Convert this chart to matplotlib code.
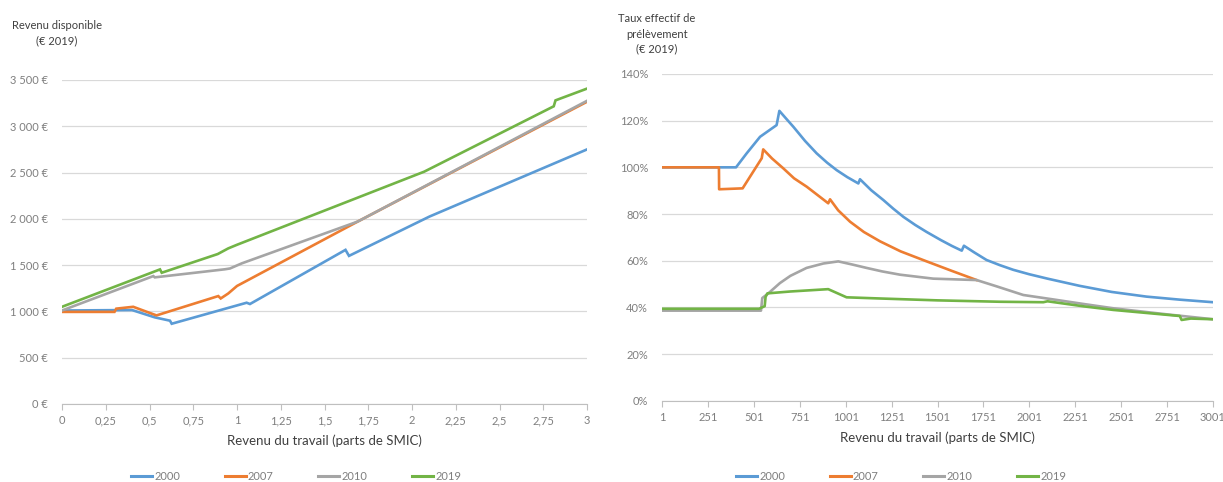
import matplotlib
matplotlib.use("Agg")
import matplotlib.pyplot as plt
from matplotlib.ticker import FuncFormatter
from matplotlib.lines import Line2D

plt.rcParams['font.family'] = ['Lato', 'DejaVu Sans']

years = ["2000", "2007", "2010", "2019"]
colors = ["#5B9BD5", "#ED7D31", "#A5A5A5", "#72B446"]

# Revenu disponible (€ 2019) vs revenu du travail (parts de SMIC)
rd_x_2000 = [0, 0.40, 0.53, 0.617, 0.627, 1.055, 1.074, 1.62, 1.64, 2.10, 3.0]
rd_y_2000 = [1010, 1015, 936, 900, 867, 1094, 1080, 1665, 1600, 2025, 2750]
rd_x_2007 = [0, 0.30, 0.31, 0.407, 0.54, 0.893, 0.907, 0.95, 1.0, 1.69, 3.0]
rd_y_2007 = [995, 995, 1030, 1050, 957, 1166, 1140, 1194, 1275, 1971, 3265]
rd_x_2010 = [0, 0.522, 0.53, 0.93, 0.96, 1.027, 1.69, 3.0]
rd_y_2010 = [1010, 1382, 1368, 1455, 1464, 1519, 1971, 3275]
rd_x_2019 = [0, 0.56, 0.57, 0.89, 0.95, 1.0, 2.07, 2.81, 2.82, 3.0]
rd_y_2019 = [1050, 1454, 1418, 1620, 1681, 1720, 2510, 3216, 3280, 3407]

# Taux effectif de prélèvement (%) vs revenu du travail
te_x_2000 = [1, 404, 462, 535, 625, 640, 680, 716, 780, 843, 900, 952, 1010, 1070,
             1079, 1140, 1206, 1260, 1315, 1380, 1442, 1520, 1580, 1633, 1645, 1700,
             1768, 1840, 1913, 2000, 2100, 2276, 2450, 2639, 2820, 3001]
te_y_2000 = [100, 100, 106, 113.1, 118.1, 124.2, 120.6, 117.4, 111.3, 106, 102, 98.8,
             95.8, 93.1, 94.9, 90.2, 86, 82.3, 78.8, 75.3, 72.3, 68.8, 66.3, 64.3, 66.4,
             63.6, 60.3, 58.1, 56.1, 54.2, 52.3, 49.2, 46.6, 44.6, 43.3, 42.2]
te_x_2007 = [1, 311, 312, 440, 544, 552, 600, 661, 720, 789, 850, 906, 916, 960, 1025,
             1100, 1188, 1300, 1442, 1580, 1714]
te_y_2007 = [100, 100, 90.6, 91, 103.9, 107.7, 103.8, 99.6, 95.3, 91.7, 88, 84.6, 86.3,
             81.6, 76.7, 72.3, 68.3, 64, 59.7, 55.6, 51.7]
te_x_2010 = [1, 540, 547, 580, 643, 700, 788, 880, 961, 1040, 1115, 1200, 1297, 1478,
             1714, 1823, 1968, 2131, 2300, 2458, 2750, 3001]
te_y_2010 = [38.6, 38.6, 44, 46, 50.4, 53.5, 56.9, 58.8, 59.7, 58.3, 56.9, 55.4, 54,
             52.3, 51.7, 49, 45.3, 43.4, 41.4, 39.6, 37, 34.9]
te_x_2019 = [1, 530, 560, 565, 575, 700, 906, 1006, 1188, 1500, 1841, 2077, 2100,
             2300, 2458, 2820, 2830, 2880, 3001]
te_y_2019 = [39.4, 39.4, 40.5, 44.5, 46, 46.8, 47.8, 44.3, 43.8, 43, 42.4, 42.2, 42.6,
             40.4, 38.9, 36.3, 34.6, 35.2, 34.9]

left_xticks = [0, 0.25, 0.5, 0.75, 1, 1.25, 1.5, 1.75, 2, 2.25, 2.5, 2.75, 3]
left_xlabels = ["0", "0,25", "0,5", "0,75", "1", "1,25", "1,5", "1,75", "2",
                "2,25", "2,5", "2,75", "3"]
left_yticks = [0, 500, 1000, 1500, 2000, 2500, 3000, 3500]
right_xticks = [1, 251, 501, 751, 1001, 1251, 1501, 1751, 2001, 2251, 2501, 2751, 3001]
right_yticks = [0, 20, 40, 60, 80, 100, 120, 140]

W, H = 1223, 482
fig = plt.figure(figsize=(W / 100, H / 100), dpi=100)

tick_col = "#7f7f7f"
grid_col = "#d9d9d9"
text_col = "#404040"


def style_axes(ax):
    for s in ["top", "right", "left"]:
        ax.spines[s].set_visible(False)
    ax.spines["bottom"].set_color("#bfbfbf")
    ax.spines["bottom"].set_linewidth(0.8)
    ax.yaxis.grid(True, color=grid_col, linewidth=0.9)
    ax.set_axisbelow(True)
    ax.tick_params(axis="y", length=0, pad=10, labelsize=8, labelcolor=tick_col)
    ax.tick_params(axis="x", length=4, width=0.8, color="#bfbfbf", direction="out",
                   pad=4, labelsize=8, labelcolor=tick_col)


# Left panel
axL = fig.add_axes([62 / W, 1 - 404 / H, (587 - 62) / W, (404 - 80) / H])
for xs, ys, c in zip([rd_x_2000, rd_x_2007, rd_x_2010, rd_x_2019],
                     [rd_y_2000, rd_y_2007, rd_y_2010, rd_y_2019], colors):
    axL.plot(xs, ys, color=c, linewidth=1.9, solid_joinstyle="miter")
axL.set_xlim(0, 3)
axL.set_ylim(0, 3500)
axL.set_yticks(left_yticks)
axL.yaxis.set_major_formatter(FuncFormatter(
    lambda v, p: ("{:,.0f}".format(v).replace(",", " ")) + " €"))
axL.set_xticks(left_xticks)
axL.set_xticklabels(left_xlabels)
style_axes(axL)
axL.set_xlabel("Revenu du travail (parts de SMIC)", fontsize=9.5, color=text_col, labelpad=6)

# Right panel
axR = fig.add_axes([662 / W, 1 - 400.7 / H, (1213 - 662) / W, (400.7 - 74) / H])
for xs, ys, c in zip([te_x_2000, te_x_2007, te_x_2010, te_x_2019],
                     [te_y_2000, te_y_2007, te_y_2010, te_y_2019], colors):
    axR.plot(xs, ys, color=c, linewidth=1.9, solid_joinstyle="round")
axR.set_xlim(1, 3001)
axR.set_ylim(0, 140)
axR.set_yticks(right_yticks)
axR.yaxis.set_major_formatter(FuncFormatter(lambda v, p: "{:.0f}%".format(v)))
axR.set_xticks(right_xticks)
axR.set_xticklabels([str(t) for t in right_xticks])
style_axes(axR)
axR.set_xlabel("Revenu du travail (parts de SMIC)", fontsize=9.5, color=text_col, labelpad=6)

# Panel titles
fig.text(57 / W, 1 - 33 / H, "Revenu disponible\n(€ 2019)", ha="center", va="center",
         fontsize=8, color=text_col, linespacing=1.5)
fig.text(657 / W, 1 - 34 / H, "Taux effectif de\nprélèvement\n(€ 2019)", ha="center",
         va="center", fontsize=8, color=text_col, linespacing=1.45)

# Legends
handles = [Line2D([0], [0], color=c, linewidth=2.2) for c in colors]
for cx in [296 / W, 901 / W]:
    fig.legend(handles, years, loc="center", bbox_to_anchor=(cx, 1 - 476 / H),
               ncol=4, frameon=False, fontsize=8, handlelength=1.9,
               handletextpad=0.2, columnspacing=4.0, labelcolor=tick_col)

fig.savefig("out.png", dpi=100, facecolor="white")
